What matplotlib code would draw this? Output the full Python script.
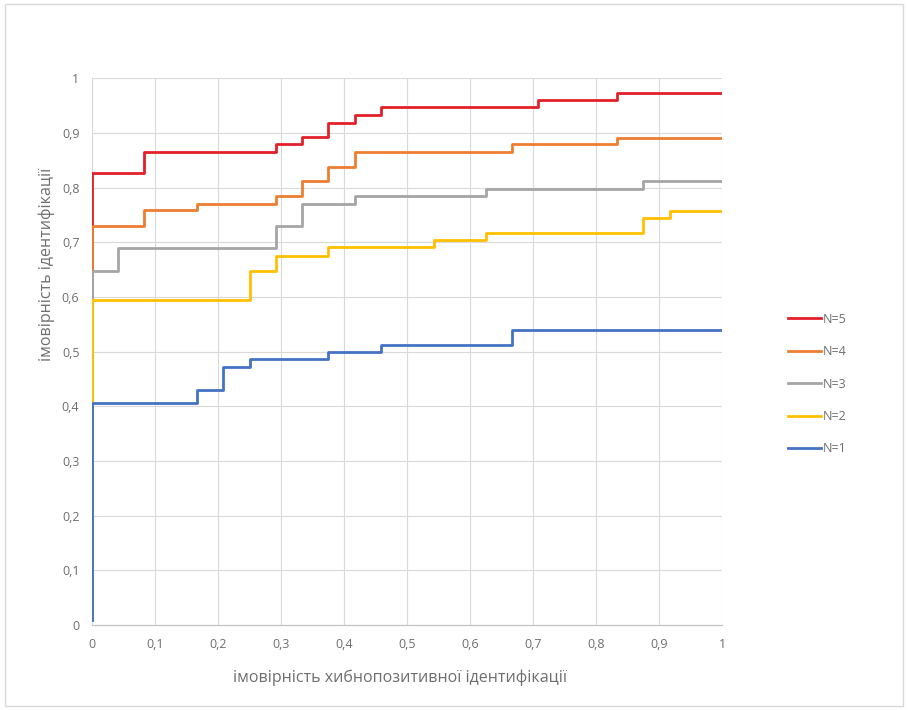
import matplotlib
matplotlib.use("Agg")
import matplotlib.pyplot as plt
from matplotlib.patches import Rectangle

# False positive rate (x) and identification probability (y) for each N
fpr_n5 = [0, 0, 0.083, 0.292, 0.333, 0.375, 0.417, 0.458, 0.708, 0.833, 1]
tpr_n5 = [0.01, 0.826, 0.865, 0.879, 0.893, 0.918, 0.932, 0.947, 0.961, 0.973, 0.973]

fpr_n4 = [0, 0, 0.083, 0.167, 0.292, 0.333, 0.375, 0.417, 0.667, 0.833, 1]
tpr_n4 = [0.01, 0.729, 0.759, 0.771, 0.785, 0.812, 0.837, 0.865, 0.879, 0.891, 0.891]

fpr_n3 = [0, 0, 0.042, 0.292, 0.333, 0.417, 0.625, 0.875, 1]
tpr_n3 = [0.01, 0.648, 0.69, 0.729, 0.771, 0.784, 0.798, 0.812, 0.812]

fpr_n2 = [0, 0, 0.25, 0.292, 0.375, 0.542, 0.625, 0.875, 0.917, 1]
tpr_n2 = [0.01, 0.594, 0.648, 0.675, 0.691, 0.704, 0.717, 0.745, 0.757, 0.757]

fpr_n1 = [0, 0, 0.167, 0.208, 0.25, 0.375, 0.458, 0.667, 1]
tpr_n1 = [0.01, 0.406, 0.43, 0.472, 0.486, 0.5, 0.513, 0.54, 0.54]

labels = ["N=5", "N=4", "N=3", "N=2", "N=1"]
colors = ["#E3202A", "#ED7D31", "#A5A5A5", "#FFC000", "#4472C4"]
series = [(fpr_n5, tpr_n5), (fpr_n4, tpr_n4), (fpr_n3, tpr_n3),
          (fpr_n2, tpr_n2), (fpr_n1, tpr_n1)]

ticks = [i / 10 for i in range(11)]
tick_labels = ["0" if t == 0 else ("1" if t == 1 else f"{t:.1f}".replace(".", ",")) for t in ticks]

plt.rcParams["font.family"] = ["Open Sans", "DejaVu Sans"]
text_color = "#6E6E6E"

fig = plt.figure(figsize=(9.08, 7.10), dpi=100)
fig.patches.append(Rectangle((0.006, 0.006), 0.988, 0.988, transform=fig.transFigure,
                             fill=False, edgecolor="#D9D9D9", linewidth=1.0))

ax = fig.add_axes([0.1013, 0.1197, 0.694, 0.770])
for (x, y), lab, col in zip(series, labels, colors):
    ax.step(x, y, where="post", color=col, linewidth=2.0, label=lab,
            solid_joinstyle="round")

ax.set_xlim(0, 1)
ax.set_ylim(0, 1)
ax.set_xticks(ticks)
ax.set_xticklabels(tick_labels)
ax.set_yticks(ticks)
ax.set_yticklabels(tick_labels)
ax.tick_params(length=0, pad=9, labelsize=9, labelcolor=text_color)
ax.grid(True, color="#D9D9D9", linewidth=0.8)
ax.set_axisbelow(True)
for side in ["top", "right", "left"]:
    ax.spines[side].set_visible(False)
ax.spines["bottom"].set_color("#BFBFBF")
ax.spines["bottom"].set_linewidth(0.8)

fig.text(0.44, 0.046, "імовірність хибнопозитивної ідентифікації",
         ha="center", va="center", fontsize=11.5, color=text_color)
fig.text(0.052, 0.628, "імовірність ідентифікації", rotation=90,
         ha="center", va="center", fontsize=11.5, color=text_color)

fig.legend(loc="center left", bbox_to_anchor=(0.855, 0.459), frameon=False,
           fontsize=9, labelcolor=text_color, handlelength=2.7,
           handletextpad=0.15, labelspacing=1.55)

fig.savefig("out.png", dpi=100)
